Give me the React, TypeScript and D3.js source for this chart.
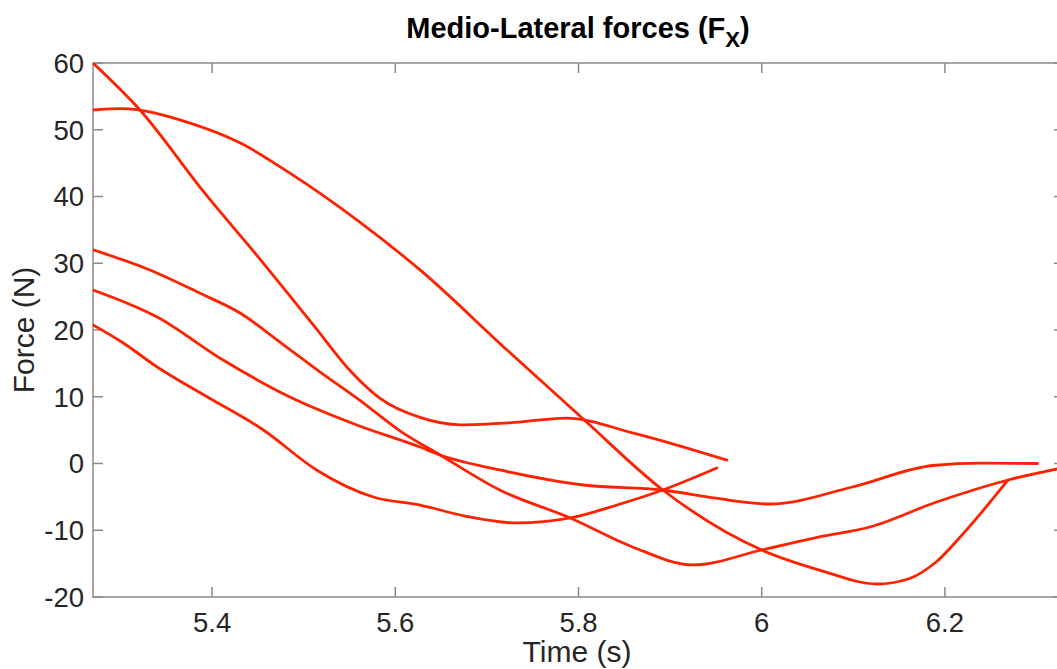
import React from "react";
import * as d3 from "d3";

// Data: [time (s), force (N)]
const curveA: [number, number][] = [
  [5.27, 60.0], [5.321, 53.0], [5.392, 40.5], [5.45, 31.0], [5.512, 20.5], [5.55, 14.0],
  [5.583, 9.8], [5.627, 6.9], [5.671, 5.8], [5.725, 6.1], [5.787, 6.8], [5.859, 4.6], [5.962, 0.5],
];
const curveB: [number, number][] = [
  [5.27, 52.96], [5.3, 53.15], [5.376, 51.0], [5.431, 48.0], [5.485, 43.5],
  [5.558, 36.5], [5.627, 29.0], [5.722, 17.0], [5.804, 6.82], [5.892, -3.97],
  [6.0, -12.96], [6.063, -15.96], [6.126, -18.05], [6.16, -17.3], [6.19, -14.8], [6.22, -10.5], [6.269, -2.47],
];
const curveC: [number, number][] = [
  [5.27, 32.0], [5.332, 29.0], [5.387, 25.5], [5.431, 22.5], [5.474, 18.2], [5.518, 13.7],
  [5.561, 9.5], [5.605, 4.9], [5.649, 1.27], [5.714, -3.97], [5.791, -8.16], [5.859, -12.5],
  [5.925, -15.2], [6.0, -12.96], [6.063, -11.0], [6.118, -9.51], [6.191, -5.77],
  [6.269, -2.47], [6.33, -0.6],
];
const curveD: [number, number][] = [
  [5.27, 26.0], [5.34, 21.95], [5.412, 15.5], [5.485, 9.96], [5.558, 5.77], [5.627, 2.47],
  [5.649, 1.27], [5.714, -0.97], [5.805, -3.22], [5.892, -3.97], [5.95, -5.2], [6.009, -6.07],
  [6.099, -3.52], [6.187, -0.3], [6.24, 0.05], [6.301, 0.0],
];
const curveE: [number, number][] = [
  [5.27, 20.75], [5.303, 18.05], [5.34, 14.46], [5.395, 9.96], [5.456, 5.02], [5.514, -0.97],
  [5.576, -5.02], [5.627, -6.22], [5.676, -7.87], [5.733, -8.91], [5.791, -8.16], [5.842, -6.22],
  [5.892, -3.97], [5.951, -0.67],
];
const series = [curveA, curveB, curveC, curveD, curveE];

const xTicks = [5.4, 5.6, 5.8, 6, 6.2];
const yTicks = [-20, -10, 0, 10, 20, 30, 40, 50, 60];
const xDomain: [number, number] = [5.27, 6.33];
const yDomain: [number, number] = [-20, 60];

const W = 1057, H = 669;
const M = { left: 93, top: 63, right: 1064, bottom: 597 };
const FONT = "'Liberation Sans', Arial, Helvetica, sans-serif";
const TEXT = "#262626";
const AXIS = "#8a8a8a";

export default function App() {
  const x = d3.scaleLinear().domain(xDomain).range([M.left, M.right]);
  const y = d3.scaleLinear().domain(yDomain).range([M.bottom, M.top]);
  const line = d3
    .line<[number, number]>()
    .x((d) => x(d[0]))
    .y((d) => y(d[1]))
    .curve(d3.curveMonotoneX);
  const tl = 10;
  return (
    <svg width={W} height={H} style={{ position: "absolute", left: 0, top: 0, background: "#fff" }}>
      <defs>
        <clipPath id="plot">
          <rect x={M.left} y={M.top} width={M.right - M.left} height={M.bottom - M.top} />
        </clipPath>
      </defs>
      <text x={578} y={38} textAnchor="middle" fontFamily={FONT} fontWeight="bold" fontSize={29} fill="#000">
        Medio-Lateral forces (F
        <tspan fontSize={22} dy={9}>X</tspan>
        <tspan dy={-9}>)</tspan>
      </text>
      <rect x={M.left} y={M.top} width={M.right - M.left} height={M.bottom - M.top} fill="none" stroke={AXIS} strokeWidth={1.5} />
      {xTicks.map((t) => (
        <g key={"x" + t}>
          <line x1={x(t)} x2={x(t)} y1={M.bottom} y2={M.bottom - tl} stroke={AXIS} strokeWidth={1.5} />
          <line x1={x(t)} x2={x(t)} y1={M.top} y2={M.top + tl} stroke={AXIS} strokeWidth={1.5} />
          <text x={x(t)} y={632} textAnchor="middle" fontFamily={FONT} fontSize={27.5} fill={TEXT}>
            {String(t)}
          </text>
        </g>
      ))}
      {yTicks.map((t) => (
        <g key={"y" + t}>
          <line x1={M.left} x2={M.left + tl} y1={y(t)} y2={y(t)} stroke={AXIS} strokeWidth={1.5} />
          <line x1={M.right} x2={M.right - tl} y1={y(t)} y2={y(t)} stroke={AXIS} strokeWidth={1.5} />
          <text x={84} y={y(t)} dy="0.36em" textAnchor="end" fontFamily={FONT} fontSize={27.5} fill={TEXT}>
            {String(t)}
          </text>
        </g>
      ))}
      <text x={577} y={662} textAnchor="middle" fontFamily={FONT} fontSize={30} fill={TEXT}>
        Time (s)
      </text>
      <text transform={`translate(34,${(M.top + M.bottom) / 2}) rotate(-90)`} textAnchor="middle" fontFamily={FONT} fontSize={30} fill={TEXT}>
        Force (N)
      </text>
      <g clipPath="url(#plot)">
        {series.map((s, i) => (
          <path key={i} d={line(s) || ""} fill="none" stroke="#ff2200" strokeWidth={2.8} strokeLinecap="round" />
        ))}
      </g>
    </svg>
  );
}
